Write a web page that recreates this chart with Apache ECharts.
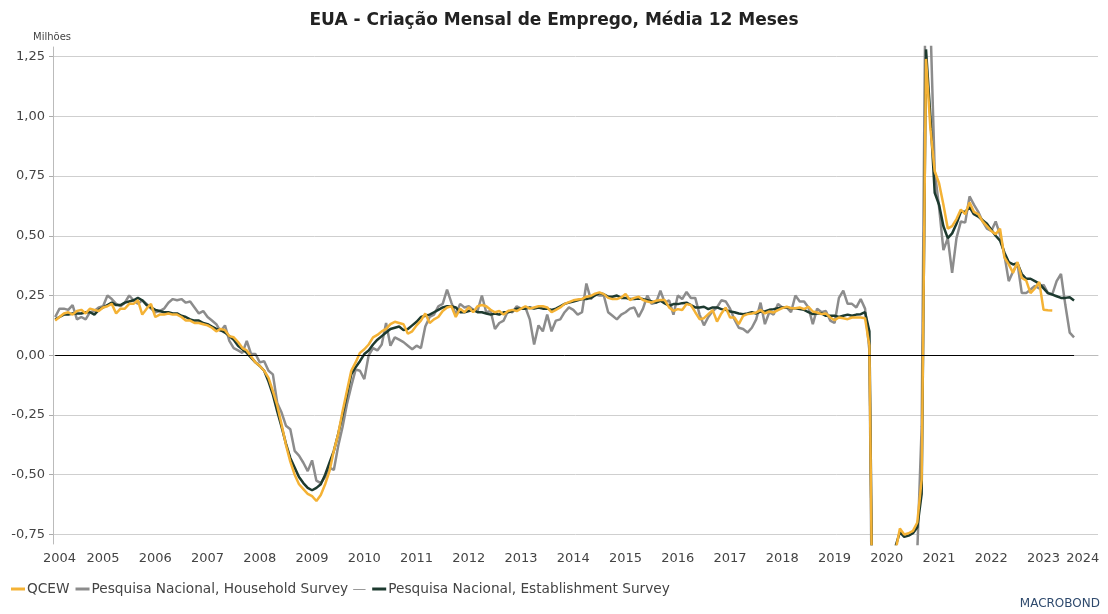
<!DOCTYPE html>
<html>
<head>
<meta charset="utf-8">
<script src="https://cdn.jsdelivr.net/npm/echarts@6/dist/echarts.min.js"></script>
<style>
  html, body { margin: 0; padding: 0; background: #fff; }
  #chart { width: 1108px; height: 614px; }
</style>
</head>
<body>
<div id="chart"></div>
<script>
// meses de ago/2004 a jul/2024
var startYear = 2004, startMonth = 8, nMonths = 240;
var months = [];
for (var k = 0; k < nMonths; k++) {
	var m = startMonth - 1 + k;
	var y = startYear + Math.floor(m / 12);
	var mm = (m % 12) + 1;
	months.push(y + '-' + (mm < 10 ? '0' + mm : mm));
}

var yearLabels = ['2004', '2005', '2006', '2007', '2008', '2009', '2010', '2011', '2012', '2013', '2014',
	'2015', '2016', '2017', '2018', '2019', '2020', '2021', '2022', '2023', '2024'];

// milhões, média 12 meses
var qcew = [
	0.145, 0.16, 0.175, 0.18, 0.17, 0.185, 0.19, 0.175, 0.195, 0.19, 0.185, 0.20,
	0.205, 0.215, 0.175, 0.195, 0.195, 0.215, 0.215, 0.23, 0.17, 0.195, 0.215, 0.16,
	0.17, 0.17, 0.175, 0.17, 0.17, 0.16, 0.145, 0.145, 0.135, 0.135, 0.13, 0.125,
	0.115, 0.10, 0.11, 0.105, 0.08, 0.075, 0.055, 0.03, 0.02, -0.005, -0.03, -0.045,
	-0.065, -0.095, -0.15, -0.21, -0.29, -0.375, -0.445, -0.50, -0.54, -0.56, -0.58, -0.59,
	-0.61, -0.585, -0.54, -0.485, -0.40, -0.33, -0.235, -0.15, -0.065, -0.03, 0.01, 0.025,
	0.045, 0.075, 0.085, 0.10, 0.11, 0.13, 0.14, 0.135, 0.13, 0.09, 0.10, 0.125,
	0.145, 0.175, 0.135, 0.15, 0.16, 0.185, 0.20, 0.205, 0.16, 0.195, 0.18, 0.20,
	0.18, 0.205, 0.21, 0.205, 0.19, 0.18, 0.185, 0.17, 0.185, 0.19, 0.185, 0.195,
	0.205, 0.195, 0.20, 0.205, 0.205, 0.20, 0.18, 0.19, 0.20, 0.215, 0.222, 0.23,
	0.233, 0.235, 0.245, 0.248, 0.258, 0.263, 0.256, 0.24, 0.235, 0.235, 0.242, 0.256,
	0.231, 0.24, 0.245, 0.231, 0.225, 0.221, 0.228, 0.231, 0.231, 0.20, 0.186, 0.193,
	0.189, 0.214, 0.21, 0.18, 0.151, 0.155, 0.172, 0.189, 0.141, 0.175, 0.20, 0.158,
	0.158, 0.13, 0.165, 0.172, 0.175, 0.179, 0.189, 0.175, 0.183, 0.179, 0.189, 0.197,
	0.203, 0.197, 0.197, 0.20, 0.193, 0.203, 0.183, 0.179, 0.172, 0.175, 0.158, 0.147,
	0.158, 0.155, 0.151, 0.158, 0.158, 0.158, 0.155, 0.04, -1.65, -1.4, -1.1, -0.97,
	-0.9, -0.82, -0.725, -0.75, -0.745, -0.735, -0.70, -0.52, 1.24, 0.95, 0.77, 0.72,
	0.63, 0.53, 0.54, 0.57, 0.61, 0.59, 0.64, 0.60, 0.59, 0.56, 0.54, 0.52,
	0.506, 0.53, 0.41, 0.38, 0.345, 0.39, 0.324, 0.313, 0.26, 0.28, 0.307, 0.19,
	0.188, 0.187
];

var household = [
	0.16, 0.195, 0.195, 0.19, 0.21, 0.15, 0.16, 0.15, 0.18, 0.185, 0.20, 0.205,
	0.25, 0.235, 0.215, 0.205, 0.22, 0.25, 0.23, 0.215, 0.23, 0.215, 0.195, 0.18,
	0.185, 0.195, 0.22, 0.235, 0.23, 0.235, 0.22, 0.225, 0.20, 0.175, 0.185, 0.16,
	0.145, 0.13, 0.10, 0.125, 0.06, 0.03, 0.02, 0.01, 0.06, 0.005, 0.005, -0.03,
	-0.025, -0.065, -0.08, -0.20, -0.24, -0.295, -0.31, -0.40, -0.42, -0.45, -0.485, -0.44,
	-0.525, -0.535, -0.51, -0.47, -0.48, -0.38, -0.30, -0.205, -0.13, -0.06, -0.065, -0.10,
	0.0, 0.03, 0.02, 0.045, 0.135, 0.04, 0.075, 0.065, 0.055, 0.04, 0.025, 0.04,
	0.03, 0.12, 0.16, 0.17, 0.205, 0.215, 0.275, 0.22, 0.17, 0.215, 0.20, 0.205,
	0.19, 0.185, 0.25, 0.18, 0.185, 0.11, 0.135, 0.145, 0.185, 0.18, 0.205, 0.195,
	0.20, 0.15, 0.045, 0.125, 0.10, 0.17, 0.10, 0.145, 0.15, 0.18, 0.20, 0.19,
	0.17, 0.18, 0.30, 0.235, 0.255, 0.25, 0.25, 0.18, 0.165, 0.15, 0.17, 0.18,
	0.195, 0.20, 0.16, 0.195, 0.25, 0.215, 0.22, 0.27, 0.22, 0.23, 0.17, 0.25,
	0.235, 0.265, 0.24, 0.24, 0.17, 0.125, 0.16, 0.185, 0.20, 0.23, 0.225, 0.195,
	0.15, 0.115, 0.11, 0.095, 0.115, 0.15, 0.22, 0.13, 0.18, 0.17, 0.215, 0.20,
	0.20, 0.18, 0.25, 0.225, 0.225, 0.20, 0.13, 0.195, 0.18, 0.185, 0.145, 0.135,
	0.24, 0.27, 0.215, 0.215, 0.20, 0.235, 0.195, 0.02, -1.9, -1.6, -1.3, -1.15,
	-1.05, -0.98, -0.93, -0.9, -0.92, -0.93, -0.82, -0.3, 1.8, 1.4, 0.77, 0.62,
	0.44, 0.49, 0.345, 0.49, 0.56, 0.555, 0.665, 0.63, 0.60, 0.56, 0.53, 0.52,
	0.56, 0.505, 0.42, 0.31, 0.35, 0.385, 0.26, 0.26, 0.275, 0.29, 0.28, 0.295,
	0.26, 0.255, 0.31, 0.34, 0.21, 0.095, 0.075
];

var establishment = [
	0.15, 0.16, 0.17, 0.17, 0.175, 0.175, 0.175, 0.18, 0.18, 0.17, 0.19, 0.20,
	0.21, 0.22, 0.21, 0.21, 0.22, 0.225, 0.23, 0.24, 0.23, 0.21, 0.20, 0.19,
	0.185, 0.18, 0.18, 0.175, 0.175, 0.165, 0.16, 0.15, 0.145, 0.145, 0.135, 0.13,
	0.12, 0.11, 0.105, 0.095, 0.08, 0.065, 0.04, 0.025, 0.01, -0.01, -0.03, -0.045,
	-0.065, -0.11, -0.165, -0.235, -0.30, -0.37, -0.43, -0.47, -0.51, -0.535, -0.555, -0.565,
	-0.555, -0.54, -0.50, -0.45, -0.40, -0.33, -0.25, -0.165, -0.08, -0.05, -0.025, 0.005,
	0.02, 0.045, 0.065, 0.08, 0.095, 0.11, 0.115, 0.12, 0.105, 0.11, 0.125, 0.14,
	0.16, 0.165, 0.17, 0.18, 0.19, 0.20, 0.205, 0.205, 0.20, 0.18, 0.18, 0.185,
	0.19, 0.18, 0.18, 0.175, 0.17, 0.175, 0.17, 0.18, 0.18, 0.185, 0.195, 0.195,
	0.195, 0.20, 0.195, 0.20, 0.195, 0.195, 0.19, 0.195, 0.205, 0.215, 0.22, 0.225,
	0.23, 0.235, 0.235, 0.24, 0.25, 0.26, 0.255, 0.245, 0.245, 0.25, 0.24, 0.24,
	0.235, 0.235, 0.237, 0.235, 0.23, 0.225, 0.22, 0.228, 0.217, 0.207, 0.214, 0.214,
	0.218, 0.22, 0.21, 0.20, 0.20, 0.203, 0.193, 0.20, 0.20, 0.193, 0.19, 0.183,
	0.18, 0.175, 0.172, 0.175, 0.18, 0.175, 0.183, 0.183, 0.19, 0.193, 0.197, 0.20,
	0.20, 0.197, 0.197, 0.193, 0.19, 0.18, 0.172, 0.175, 0.175, 0.165, 0.165, 0.165,
	0.16, 0.165, 0.17, 0.165, 0.17, 0.172, 0.18, 0.10, -1.58, -1.35, -1.08, -0.96,
	-0.88, -0.80, -0.74, -0.76, -0.755, -0.745, -0.72, -0.58, 1.28, 1.0, 0.68, 0.63,
	0.54, 0.49, 0.51, 0.55, 0.60, 0.60, 0.62, 0.59, 0.58, 0.565, 0.55, 0.525,
	0.50, 0.48, 0.43, 0.39, 0.38, 0.385, 0.34, 0.32, 0.32, 0.31, 0.30, 0.28,
	0.26, 0.254, 0.247, 0.24, 0.24, 0.243, 0.229
];

var nameQ = 'QCEW';
var nameH = 'Pesquisa Nacional, Household Survey';
var nameE = 'Pesquisa Nacional, Establishment Survey';

// onde ficam os rótulos dos anos (meio do ano; 2004 e 2024 na parte visível)
var labelIdx = {};
yearLabels.forEach(function (yr, n) {
	var idx;
	if (n === 0) idx = 1;
	else if (n === yearLabels.length - 1) idx = 236;
	else idx = n * 12 - 1;
	labelIdx[idx] = yr;
});

var font = 'DejaVu Sans';
var myChart = echarts.init(document.getElementById('chart'));
var option = {
	animation : false,
	backgroundColor : '#fff',
	title : {
		text : 'EUA - Criação Mensal de Emprego, Média 12 Meses',
		left : 'center',
		top : 7,
		textStyle : { fontFamily : font, fontSize : 17, fontWeight : 'bold', color : '#222' }
	},
	legend : {
		data : [ nameQ, nameH, nameE ],
		left : 6,
		top : 577,
		itemWidth : 14,
		itemHeight : 3,
		itemGap : 6,
		icon : 'rect',
		selectedMode : false,
		formatter : function (name) {
			return name === nameH ? name + ' {d|—}' : name;
		},
		textStyle : {
			fontFamily : font, fontSize : 13.7, color : '#444', padding : [ 0, 0, 0, -3 ],
			rich : { d : { color : '#999', fontFamily : font, fontSize : 13.7 } }
		}
	},
	grid : [
		{ left : 53, right : 10, top : 56.55, bottom : 79.55 },
		{ left : 53, right : 10, top : 47, bottom : 70 }
	],
	xAxis : [ {
		gridIndex : 0,
		type : 'value',
		show : false
	}, {
		gridIndex : 1,
		type : 'category',
		data : months,
		boundaryGap : true,
		axisLine : { lineStyle : { color : '#bbb', width : 1 } },
		axisTick : {
			length : 5,
			lineStyle : { color : '#999' },
			interval : function (index, value) { return value.slice(5) === '01'; }
		},
		axisLabel : {
			margin : 8,
			fontFamily : font, fontSize : 13, color : '#444',
			interval : function (index) { return labelIdx[index] !== undefined; },
			formatter : function (value) { return value.slice(0, 4); }
		},
		splitLine : { show : false }
	} ],
	yAxis : [ {
		gridIndex : 0,
		type : 'value',
		min : -0.75,
		max : 1.25,
		interval : 0.25,
		axisLine : { show : false },
		axisTick : { show : true, length : 4, lineStyle : { color : '#aaa' } },
		axisLabel : {
			margin : 8,
			fontFamily : font, fontSize : 13, color : '#444',
			formatter : function (v) { return v.toFixed(2).replace('.', ','); }
		},
		splitLine : { lineStyle : { color : '#cfcfcf', width : 1 } }
	}, {
		gridIndex : 1,
		type : 'value',
		min : -0.79,
		max : 1.29,
		axisLine : { show : true, lineStyle : { color : '#bbb', width : 1 } },
		axisTick : { show : false },
		axisLabel : { show : false },
		splitLine : { show : false }
	} ],
	graphic : [ {
		type : 'text', left : 33, top : 32,
		style : { text : 'Milhões', fontFamily : font, fontSize : 10, fill : '#444' }
	}, {
		type : 'text', right : 8, top : 598,
		style : { text : 'MACROBOND', fontFamily : font, fontSize : 12, fill : '#2f4a6d' }
	} ],
	series : [ {
		name : nameH,
		type : 'line',
		xAxisIndex : 1, yAxisIndex : 1,
		data : household,
		showSymbol : false,
		symbol : 'none',
		lineStyle : { color : '#8c8c8c', width : 2.5 },
		itemStyle : { color : '#8c8c8c' },
		z : 2
	}, {
		name : nameE,
		type : 'line',
		xAxisIndex : 1, yAxisIndex : 1,
		data : establishment,
		showSymbol : false,
		symbol : 'none',
		lineStyle : { color : '#1d3a2f', width : 2.5 },
		itemStyle : { color : '#1d3a2f' },
		z : 3,
		markLine : {
			silent : true,
			symbol : [ 'none', 'none' ],
			label : { show : false },
			lineStyle : { color : '#000', width : 1, type : 'solid' },
			data : [ [ { coord : [ months[0], 0 ] }, { coord : [ months[establishment.length - 1], 0 ] } ] ]
		}
	}, {
		name : nameQ,
		type : 'line',
		xAxisIndex : 1, yAxisIndex : 1,
		data : qcew,
		showSymbol : false,
		symbol : 'none',
		lineStyle : { color : '#f4b235', width : 2.5 },
		itemStyle : { color : '#f4b235' },
		z : 4
	} ]
};
myChart.setOption(option);
</script>
</body>
</html>
